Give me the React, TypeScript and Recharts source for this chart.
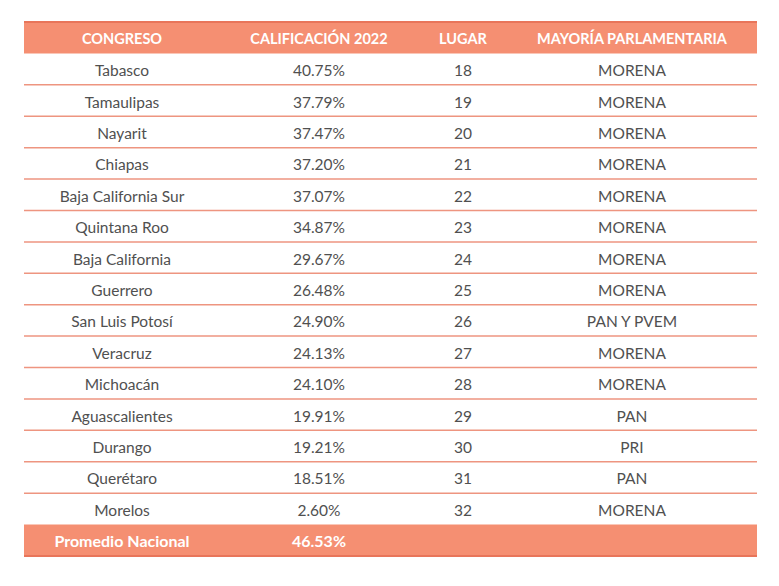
import { BarChart, Bar, XAxis, YAxis, ReferenceArea, ReferenceLine } from 'recharts'

const headers = ['CONGRESO', 'CALIFICACIÓN 2022', 'LUGAR', 'MAYORÍA PARLAMENTARIA']
const states = ['Tabasco', 'Tamaulipas', 'Nayarit', 'Chiapas', 'Baja California Sur', 'Quintana Roo', 'Baja California', 'Guerrero', 'San Luis Potosí', 'Veracruz', 'Michoacán', 'Aguascalientes', 'Durango', 'Querétaro', 'Morelos']
const scores = [40.75, 37.79, 37.47, 37.2, 37.07, 34.87, 29.67, 26.48, 24.9, 24.13, 24.1, 19.91, 19.21, 18.51, 2.6]
const places = [18, 19, 20, 21, 22, 23, 24, 25, 26, 27, 28, 29, 30, 31, 32]
const majority = ['MORENA', 'MORENA', 'MORENA', 'MORENA', 'MORENA', 'MORENA', 'MORENA', 'MORENA', 'PAN Y PVEM', 'MORENA', 'MORENA', 'PAN', 'PRI', 'PAN', 'MORENA']
const footerLabel = 'Promedio Nacional'
const footerScore = 46.53

const HEAD = '__head'
const FOOT = '__foot'

type Row = { key: string; cells: string[]; kind: 'head' | 'body' | 'foot'; score: number | null }

const rows: Row[] = [
  { key: HEAD, cells: headers, kind: 'head', score: null },
  ...states.map((s, i) => ({
    key: s,
    cells: [s, `${scores[i].toFixed(2)}%`, String(places[i]), majority[i]],
    kind: 'body' as const,
    score: scores[i],
  })),
  { key: FOOT, cells: [footerLabel, `${footerScore.toFixed(2)}%`, '', ''], kind: 'foot', score: footerScore },
]

const colX = [122, 319, 463, 632]
const ORANGE = '#F58F72'
const FONT = 'Lato, sans-serif'

// each y tick draws a whole table row
function RowTick(props: any) {
  const { y, payload } = props
  const row = rows.find(r => r.key === payload.value)
  if (!row) return null
  const bold = row.kind !== 'body'
  const size = row.kind === 'head' ? 14.5 : row.kind === 'foot' ? 16 : 15.5
  return (
    <g>
      {row.cells.map((c, i) => (
        <text
          key={i}
          x={colX[i]}
          y={y}
          dy={row.kind === 'head' ? 6 : 7}
          textAnchor="middle"
          fontFamily={FONT}
          fontSize={size}
          fontWeight={bold ? 700 : 400}
          fill={bold ? '#ffffff' : '#505050'}
        >
          {c}
        </text>
      ))}
    </g>
  )
}

export default function App() {
  return (
    <div style={{ position: 'absolute', left: 0, top: 0, background: '#fff' }}>
      <BarChart width={779} height={586} data={rows} layout="vertical" margin={{ top: 22, right: 22, bottom: 30, left: 0 }}>
        <XAxis type="number" domain={[0, 100]} hide />
        <YAxis type="category" dataKey="key" width={24} axisLine={false} tickLine={false} interval={0} tick={<RowTick />} />
        <Bar dataKey="score" fill="none" isAnimationActive={false} />
        <ReferenceArea y1={HEAD} y2={HEAD} fill={ORANGE} fillOpacity={1} stroke="none" ifOverflow="visible" />
        <ReferenceArea y1={FOOT} y2={FOOT} fill={ORANGE} fillOpacity={1} stroke="none" ifOverflow="visible" />
        <ReferenceLine y={HEAD} position="start" stroke="#E8755A" strokeWidth={2} ifOverflow="visible" />
        <ReferenceLine y={FOOT} position="end" stroke="#E8755A" strokeWidth={2} ifOverflow="visible" />
        {states.slice(0, -1).map(s => (
          <ReferenceLine key={s} y={s} position="end" stroke="#EE9580" strokeWidth={1.5} ifOverflow="visible" />
        ))}
      </BarChart>
    </div>
  )
}
